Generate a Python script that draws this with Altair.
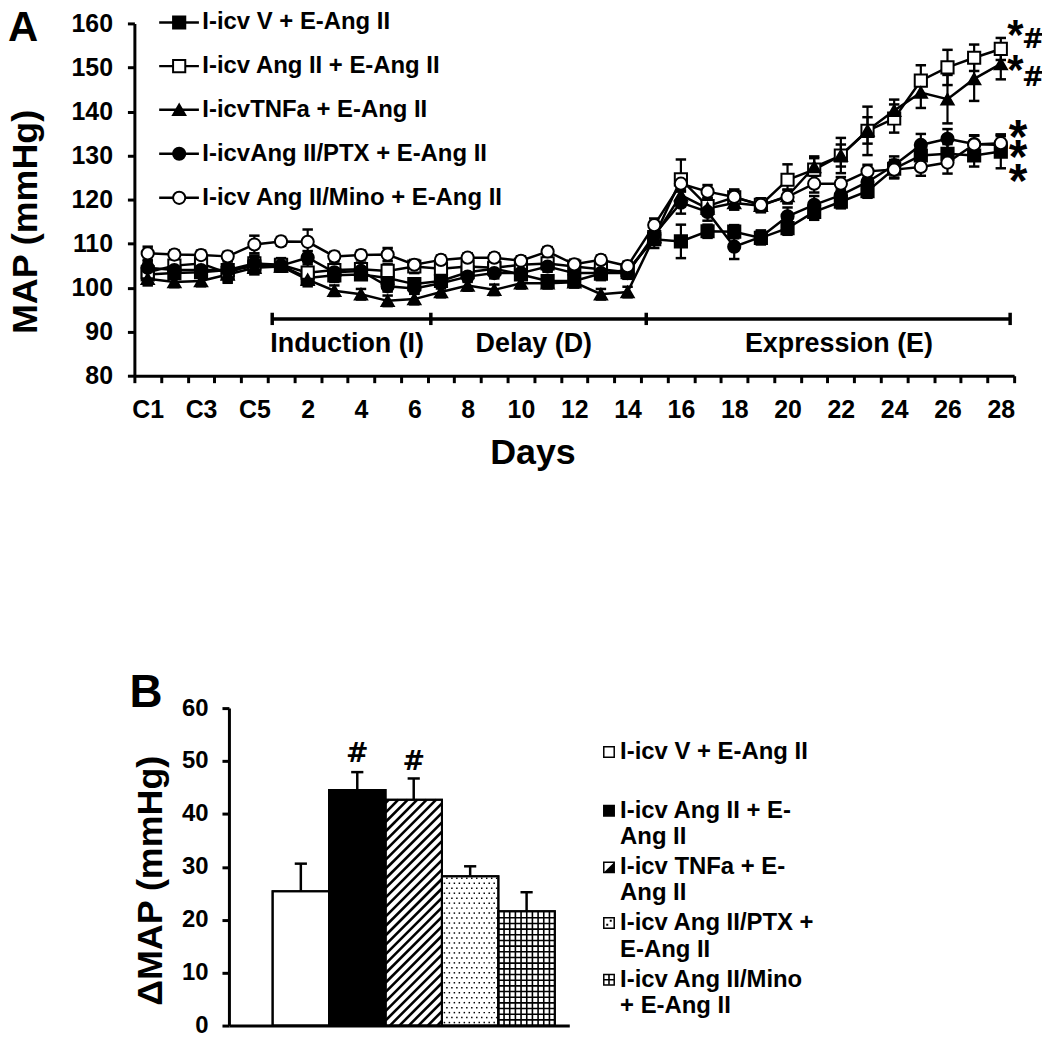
import altair as alt
import pandas as pd
import numpy as np

FONT = "Liberation Sans"

# ---------------- Panel A data ----------------
categories = ["C1", "C2", "C3", "C4", "C5"] + [str(d) for d in range(1, 29)]
series_names = [
    "I-icv V + E-Ang II",
    "I-icv Ang II + E-Ang II",
    "I-icvTNFa + E-Ang II",
    "I-icvAng II/PTX + E-Ang II",
    "I-icv Ang II/Mino + E-Ang II",
]
v_mean = [103.0, 103.3, 103.5, 104.0, 104.8, 105.0, 102.2, 102.8, 103.0, 102.2, 100.8,
          101.5, 103.5, 104.3, 103.0, 101.5, 101.5, 103.2, 104.0, 111.0, 110.5, 112.8,
          112.7, 111.3, 113.5, 117.2, 119.5, 121.9, 127.0, 130.0, 130.4, 130.0, 130.9]
v_err = [1.5, 1.2, 1.2, 1.3, 1.5, 1.2, 1.5, 1.5, 1.2, 1.2, 1.2, 1.2, 1.2, 1.5, 1.2, 1.2,
         1.2, 1.5, 1.5, 2.0, 3.8, 1.5, 1.5, 1.5, 1.5, 1.8, 1.5, 1.5, 2.0, 2.0, 2.2, 2.5, 3.8]
ang_mean = [103.5, 105.0, 105.5, 103.3, 105.5, 105.2, 103.4, 104.0, 104.2, 103.8, 104.8,
            104.3, 104.8, 104.5, 105.2, 105.5, 104.8, 104.2, 103.5, 111.5, 124.6, 118.5,
            120.5, 118.8, 124.5, 126.8, 130.0, 135.6, 138.4, 147.0, 150.0, 152.2, 154.2]
ang_err = [2.0, 1.5, 1.5, 2.2, 1.8, 1.5, 2.5, 1.5, 1.5, 1.5, 1.5, 1.5, 1.5, 1.5, 1.5, 1.5,
           1.5, 1.5, 1.5, 1.8, 4.5, 1.8, 1.8, 1.5, 3.5, 3.0, 4.0, 5.5, 3.2, 3.5, 4.0, 3.0, 2.5]
tnf_mean = [102.0, 101.3, 101.5, 103.0, 104.5, 104.8, 101.8, 99.3, 98.5, 97.0, 97.4,
            99.0, 100.5, 99.5, 101.0, 101.0, 101.2, 98.5, 99.0, 111.5, 121.0, 118.0,
            119.2, 118.6, 120.8, 127.4, 130.0, 135.7, 140.2, 144.3, 142.8, 147.4, 150.8]
tnf_err = [1.5, 1.2, 1.2, 1.5, 1.5, 1.2, 1.5, 1.2, 1.2, 1.2, 1.2, 1.2, 1.2, 1.2, 1.2, 1.2,
           1.2, 1.2, 1.2, 1.5, 2.0, 1.5, 1.5, 1.5, 1.5, 2.0, 2.5, 3.0, 2.5, 3.5, 5.5, 5.0, 3.5]
ptx_mean = [104.5, 104.0, 104.0, 104.0, 105.5, 105.0, 106.8, 103.5, 103.8, 100.3, 99.8,
            101.0, 102.5, 103.3, 103.3, 104.8, 103.3, 103.3, 103.3, 112.0, 119.3, 117.2,
            109.3, 111.5, 116.2, 118.8, 121.0, 124.0, 127.8, 132.4, 133.8, 132.6, 132.4]
ptx_err = [1.5, 1.2, 1.2, 1.2, 1.5, 1.2, 1.5, 1.2, 1.2, 1.2, 1.2, 1.2, 1.2, 1.2, 1.2, 1.2,
           1.2, 1.2, 1.2, 1.5, 2.5, 2.0, 2.8, 1.5, 2.0, 2.0, 1.8, 2.0, 2.0, 2.5, 2.2, 2.0, 2.0]
mino_mean = [107.8, 107.5, 107.4, 107.1, 109.8, 110.5, 110.4, 107.1, 107.4, 107.5, 105.2,
             106.3, 106.8, 106.8, 106.1, 108.2, 105.3, 106.3, 104.9, 114.2, 123.6, 121.8,
             120.6, 118.8, 120.6, 123.6, 123.6, 126.4, 126.8, 127.4, 128.4, 132.5, 132.8]
mino_err = [1.5, 1.0, 1.0, 1.0, 2.0, 1.0, 2.8, 1.0, 1.0, 1.5, 1.0, 1.0, 1.0, 1.0, 1.0, 1.0,
            1.0, 1.0, 1.0, 1.5, 1.5, 1.5, 1.5, 1.5, 1.5, 2.0, 1.5, 1.5, 2.0, 2.0, 2.5, 2.0, 2.0]

series_means = [v_mean, ang_mean, tnf_mean, ptx_mean, mino_mean]
series_errs = [v_err, ang_err, tnf_err, ptx_err, mino_err]
series_shapes = ["square", "square", "triangle-up", "circle", "circle"]
series_fills = ["black", "white", "black", "black", "white"]
series_sizes = [150, 150, 230, 170, 170]

# phase bar (category-unit positions) and labels
phase_bounds = [5.17, 11.12, 19.2, 32.85]
phase_bar_y = 92.9
phase_names = ["Induction (I)", "Delay (D)", "Expression (E)"]
phase_label_x = [5.1, 12.8, 22.9]
phase_label_y = 87.2

# significance marks on the right of panel A
ann_star_small_y = [159.0, 151.1]
ann_hash_y = [156.3, 147.7]
ann_star_big_y = [135.8, 131.2, 125.8]

# legend of panel A (value rows)
legA_rows = [160.2, 150.3, 140.4, 130.4, 120.4]

# ---------------- Panel B data ----------------
bar_names = [
    "I-icv V + E-Ang II",
    "I-icv Ang II + E-Ang II",
    "I-icv TNFa + E-Ang II",
    "I-icv Ang II/PTX + E-Ang II",
    "I-icv Ang II/Mino + E-Ang II",
]
bar_values = [25.4, 44.5, 42.7, 28.2, 21.6]
bar_errors = [5.2, 3.4, 4.0, 1.9, 3.6]
bar_left = [0.77, 1.765, 2.76, 3.755, 4.75]
bar_width = 0.995
bar_fill = ["white", "black", "white", "white", "white"]
hash_bars = [1, 2]
hash_y = [51.3, 49.8]

legB_icon_y = [51.7, 40.6, 29.9, 19.4, 8.65]
legB_lines = ["I-icv V + E-Ang II", "I-icv Ang II + E-", "Ang II", "I-icv TNFa + E-", "Ang II",
              "I-icv Ang II/PTX +", "E-Ang II", "I-icv Ang II/Mino", "+ E-Ang II"]
legB_line_y = [51.7, 40.6, 35.7, 29.9, 25.0, 19.4, 14.3, 8.65, 3.76]
legB_icon_x = 6.70
legB_text_x = 6.895

# ---------------- geometry ----------------
W = 884          # overall plot width (panel A width)
H = 1007         # overall plot height
HA = 354         # panel A height
B_X0, B_X1 = 95, 437
B_Y0, B_Y1 = 688, 1007
KX = (B_X1 - B_X0) / 6.0
KY = (B_Y1 - B_Y0) / 60.0

sxA = alt.Scale(domain=[0, 33], range=[0, W], nice=False, zero=False)
syA = alt.Scale(domain=[80, 160], range=[HA, 0], nice=False, zero=False)
sxB = alt.Scale(domain=[0, 6], range=[B_X0, B_X1], nice=False, zero=False)
syB = alt.Scale(domain=[0, 60], range=[B_Y1, B_Y0], nice=False, zero=False)

labels_x = [categories[i] if (i < 33 and i % 2 == 0) else "" for i in range(34)]
label_expr = "[" + ",".join("'%s'" % s for s in labels_x) + "][datum.value]"

axis_xA = alt.Axis(orient="bottom", offset=-(H - HA), values=list(range(34)),
                   labelExpr=label_expr, labelOffset=W / 33 / 2, labelFlush=False,
                   labelOverlap=False, labelBound=False, labelFontSize=25, labelBaseline="middle",
                   labelPadding=27, tickSize=7, tickWidth=3, domainWidth=3, grid=False,
                   title="Days", titleFontSize=36, titleX=400, titleY=88,
                   titleBaseline="alphabetic", titleAlign="center")
axis_yA = alt.Axis(orient="left", values=list(range(80, 161, 10)), labelFontSize=25,
                   labelPadding=15, tickSize=7, tickWidth=3, domainWidth=3, grid=False,
                   title="MAP (mmHg)", titleFontSize=36, titleX=-98, titleY=199,
                   titleAngle=270, titleBaseline="alphabetic", titleAlign="center")
axis_xB = alt.Axis(orient="bottom", ticks=False, labels=False, domainWidth=3, grid=False,
                   title=None, values=[0])
axis_yB = alt.Axis(orient="left", offset=-B_X0, values=list(range(0, 61, 10)), labelFontSize=24,
                   labelPadding=14, tickSize=7, tickWidth=3, domainWidth=3, grid=False,
                   title="ΔMAP (mmHg)", titleFontSize=36, titleX=-68, titleY=861,
                   titleAngle=270, titleBaseline="alphabetic", titleAlign="center")


def XA(f):
    return alt.X(f, type="quantitative", scale=sxA, axis=axis_xA)


def YA(f):
    return alt.Y(f, type="quantitative", scale=syA, axis=axis_yA)


def XB(f):
    return alt.X(f, type="quantitative", scale=sxB, axis=axis_xB)


def YB(f):
    return alt.Y(f, type="quantitative", scale=syB, axis=axis_yB)


# ---------------- Panel A layers ----------------
rows = []
for k, (s, means, errs) in enumerate(zip(series_names, series_means, series_errs)):
    for i, (m, e) in enumerate(zip(means, errs)):
        rows.append(dict(series=s, order=k, x=i + 0.5, y=m, lo=m - e, hi=m + e))
dfA = pd.DataFrame(rows)

shape_enc = alt.Shape("series:N", scale=alt.Scale(domain=series_names, range=series_shapes), legend=None)
fill_enc = alt.Fill("series:N", scale=alt.Scale(domain=series_names, range=series_fills), legend=None)
size_enc = alt.Size("series:N", scale=alt.Scale(domain=series_names, range=series_sizes), legend=None)

baseA = alt.Chart(dfA)
linesA = baseA.mark_line(color="black", strokeWidth=2.5).encode(
    x=XA("x"), y=YA("y"), detail="series:N", order="x:Q")
errA = baseA.mark_rule(color="black", strokeWidth=2.2).encode(x=XA("x"), y=YA("lo"), y2="hi")
capsA = baseA.transform_fold(["lo", "hi"], as_=["end", "v"]).mark_point(
    shape="stroke", size=110, strokeWidth=2.5, color="black", opacity=1).encode(
    x=XA("x"), y=YA("v:Q"))
ptsA = baseA.mark_point(filled=True, stroke="black", strokeWidth=2, opacity=1).encode(
    x=XA("x"), y=YA("y"), shape=shape_enc, fill=fill_enc, size=size_enc, order="order:Q")

dfPhase = pd.DataFrame({"x0": [phase_bounds[0]], "x1": [phase_bounds[-1]], "y": [phase_bar_y]})
phaseLine = alt.Chart(dfPhase).mark_rule(color="black", strokeWidth=3.5).encode(
    x=XA("x0"), x2="x1", y=YA("y"))
dfPT = pd.DataFrame({"x": phase_bounds, "lo": [phase_bar_y - 1.4] * 4, "hi": [phase_bar_y + 1.4] * 4})
phaseTicks = alt.Chart(dfPT).mark_rule(color="black", strokeWidth=3.5).encode(
    x=XA("x"), y=YA("lo"), y2="hi")
dfPL = pd.DataFrame({"x": phase_label_x, "y": [phase_label_y] * 3, "t": phase_names})
phaseText = alt.Chart(dfPL).mark_text(align="left", baseline="middle", font=FONT,
                                      fontSize=27, fontWeight="bold", color="black").encode(
    x=XA("x"), y=YA("y"), text="t:N")

dfLegA = pd.DataFrame({"series": series_names, "ly": legA_rows, "x0": [0.93] * 5,
                       "x1": [2.42] * 5, "xm": [1.68] * 5, "xt": [2.55] * 5})
legA_line = alt.Chart(dfLegA).mark_rule(color="black", strokeWidth=2.5).encode(
    x=XA("x0"), x2="x1", y=YA("ly"))
legA_pts = alt.Chart(dfLegA).mark_point(filled=True, stroke="black", strokeWidth=2, opacity=1).encode(
    x=XA("xm"), y=YA("ly"), shape=shape_enc, fill=fill_enc, size=size_enc)
legA_txt = alt.Chart(dfLegA).mark_text(align="left", baseline="middle", font=FONT, fontSize=24,
                                       fontWeight="bold", color="black").encode(
    x=XA("xt"), y=YA("ly"), text="series:N")

dfStarS = pd.DataFrame({"x": [33.05] * 2, "y": ann_star_small_y, "t": ["*"] * 2})
dfHash = pd.DataFrame({"x": [33.72] * 2, "y": ann_hash_y, "t": ["#"] * 2})
dfStarB = pd.DataFrame({"x": [33.15] * 3, "y": ann_star_big_y, "t": ["*"] * 3})
starS = alt.Chart(dfStarS).mark_text(align="center", baseline="middle", dy=8, font=FONT, fontSize=42,
                                     fontWeight="bold", color="black").encode(
    x=XA("x"), y=YA("y"), text="t:N")
hashA = alt.Chart(dfHash).mark_text(align="center", baseline="middle", font="DejaVu Sans", fontSize=27,
                                    fontWeight="bold", color="black").encode(
    x=XA("x"), y=YA("y"), text="t:N")
starB = alt.Chart(dfStarB).mark_text(align="center", baseline="middle", dy=9, font=FONT, fontSize=48,
                                     fontWeight="bold", color="black").encode(
    x=XA("x"), y=YA("y"), text="t:N")

dfLetter = pd.DataFrame({"t": ["A"]})
letterA = alt.Chart(dfLetter).mark_text(align="left", baseline="alphabetic", font=FONT, fontSize=42,
                                        fontWeight="bold", color="black").encode(
    x=alt.value(-127), y=alt.value(18), text="t:N")

groupA = alt.layer(phaseLine, phaseTicks, phaseText, linesA, errA, capsA, ptsA,
                   legA_line, legA_pts, legA_txt, starS, hashA, starB, letterA)

# ---------------- Panel B layers ----------------
dfB = pd.DataFrame({"name": bar_names, "x0": bar_left,
                    "x1": [b + bar_width for b in bar_left],
                    "xc": [b + bar_width / 2 for b in bar_left],
                    "v": bar_values, "base": [0.0] * 5, "e": bar_errors,
                    "top": [v + e for v, e in zip(bar_values, bar_errors)],
                    "fill": bar_fill})
barsB = alt.Chart(dfB).mark_rect(stroke="black", strokeWidth=2).encode(
    x=XB("x0"), x2="x1", y=YB("base"), y2="v", fill=alt.Fill("fill:N", scale=None))

# hatch "/" lines for bar 3
x0, x1, hv = bar_left[2], bar_left[2] + bar_width, bar_values[2]
wpx, hpx = (x1 - x0) * KX, hv * KY
segs = []
step = 9.5
for c in np.arange(-wpx + step / 2, hpx, step):
    t0, t1 = max(0.0, -c), min(wpx, hpx - c)
    if t1 > t0:
        segs.append(dict(xa=x0 + t0 / KX, ya=(t0 + c) / KY, xb=x0 + t1 / KX, yb=(t1 + c) / KY))
hatchB = alt.Chart(pd.DataFrame(segs)).mark_rule(color="black", strokeWidth=2.6).encode(
    x=XB("xa"), y=YB("ya"), x2="xb", y2="yb")

# dotted fill for bar 4
x0, x1, hv = bar_left[3], bar_left[3] + bar_width, bar_values[3]
wpx, hpx = (x1 - x0) * KX, hv * KY
dots = []
for r, yy in enumerate(np.arange(3.0, hpx - 1.5, 5.0)):
    off = 0.0 if r % 2 == 0 else 2.5
    for xx in np.arange(2.5 + off, wpx - 1.5, 5.0):
        dots.append(dict(x=x0 + xx / KX, y=yy / KY))
dotsB = alt.Chart(pd.DataFrame(dots)).mark_square(size=2.2, color="black", opacity=1).encode(
    x=XB("x"), y=YB("y"))

# grid fill for bar 5
x0, x1, hv = bar_left[4], bar_left[4] + bar_width, bar_values[4]
wpx, hpx = (x1 - x0) * KX, hv * KY
glines = []
for xx in np.arange(5.7, wpx - 1, 5.7):
    glines.append(dict(xa=x0 + xx / KX, ya=0.0, xb=x0 + xx / KX, yb=hv))
for yy in np.arange(5.7, hpx - 1, 5.7):
    glines.append(dict(xa=x0, ya=yy / KY, xb=x1, yb=yy / KY))
gridB = alt.Chart(pd.DataFrame(glines)).mark_rule(color="black", strokeWidth=1.6).encode(
    x=XB("xa"), y=YB("ya"), x2="xb", y2="yb")

outlineB = alt.Chart(dfB).mark_rect(stroke="black", strokeWidth=2, fillOpacity=0, fill="white").encode(
    x=XB("x0"), x2="x1", y=YB("base"), y2="v")
errB = alt.Chart(dfB).mark_rule(color="black", strokeWidth=2.5).encode(x=XB("xc"), y=YB("v"), y2="top")
capB = alt.Chart(dfB).mark_point(shape="stroke", size=150, strokeWidth=2.5, color="black", opacity=1).encode(
    x=XB("xc"), y=YB("top"))
dfHashB = pd.DataFrame({"x": [dfB["xc"][i] for i in hash_bars], "y": hash_y, "t": ["#"] * len(hash_bars)})
hashB = alt.Chart(dfHashB).mark_text(align="center", baseline="middle", font="DejaVu Sans", fontSize=27,
                                     fontWeight="bold", color="black").encode(
    x=XB("x"), y=YB("y"), text="t:N")

dfIcon = pd.DataFrame({"x": [legB_icon_x] * 5, "y": legB_icon_y, "fill": bar_fill})
iconBase = alt.Chart(dfIcon).mark_point(shape="square", size=110, stroke="black", strokeWidth=1.5,
                                        opacity=1, filled=True).encode(
    x=XB("x"), y=YB("y"), fill=alt.Fill("fill:N", scale=None))
dfI3 = dfIcon.iloc[[2]]
iconHatch = alt.Chart(dfI3).mark_point(shape="M1,-1L1,1L-1,1Z", size=100, fill="black",
                                       filled=True, opacity=1, strokeWidth=0).encode(
    x=XB("x"), y=YB("y"))
dfI4 = dfIcon.iloc[[3]]
iconDots = alt.Chart(dfI4).mark_point(shape="M0.15,-0.65H0.55V-0.25H0.15Z M-0.55,0.15H-0.15V0.55H-0.55Z",
                                      size=100, fill="black", filled=True, opacity=1, strokeWidth=0).encode(
    x=XB("x"), y=YB("y"))
dfI5 = dfIcon.iloc[[4]]
iconGrid = alt.Chart(dfI5).mark_point(shape="M0,-1V1M-1,0H1", size=100, stroke="black", filled=False,
                                      strokeWidth=1.6, opacity=1).encode(
    x=XB("x"), y=YB("y"))
dfLegBT = pd.DataFrame({"x": [legB_text_x] * len(legB_lines), "y": legB_line_y, "t": legB_lines})
legB_txt = alt.Chart(dfLegBT).mark_text(align="left", baseline="middle", font=FONT, fontSize=24,
                                        fontWeight="bold", color="black").encode(
    x=XB("x"), y=YB("y"), text="t:N")

dfLetterB = pd.DataFrame({"t": ["B"]})
letterB = alt.Chart(dfLetterB).mark_text(align="left", baseline="alphabetic", font=FONT, fontSize=46,
                                         fontWeight="bold", color="black").encode(
    x=alt.value(-5), y=alt.value(687), text="t:N")

groupB = alt.layer(barsB, hatchB, dotsB, gridB, outlineB, errB, capB, hashB,
                   iconBase, iconHatch, iconDots, iconGrid, legB_txt, letterB)

chart = alt.layer(groupA, groupB).resolve_scale(
    x="independent", y="independent").resolve_axis(
    x="independent", y="independent").properties(
    width=W, height=H,
    autosize=alt.AutoSizeParams(type="none"),
    padding={"left": 127, "top": 13, "right": 28, "bottom": 8},
).configure_view(stroke=None).configure_axis(
    labelFont=FONT, titleFont=FONT, labelFontWeight="bold", titleFontWeight="bold",
    labelColor="black", titleColor="black", domainColor="black", tickColor="black",
    grid=False,
)

chart.save("out.html", embed_options={"renderer": "svg", "actions": False})
